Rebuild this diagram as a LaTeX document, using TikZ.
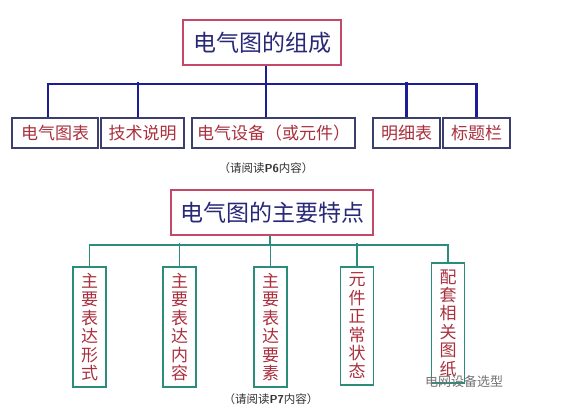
\documentclass[tikz,border=0pt]{standalone}
\usepackage{fontspec}
\setmainfont{Noto Sans CJK SC}
\usepackage{tikz}
\usetikzlibrary{calc, positioning}

\definecolor{rootred}{RGB}{196,72,104}
\definecolor{navy}{RGB}{40,40,120}
\definecolor{barblue}{RGB}{28,28,150}
\definecolor{boxblue}{RGB}{60,62,110}
\definecolor{leafred}{RGB}{170,48,62}
\definecolor{teal}{RGB}{44,140,122}

\begin{document}
\begin{tikzpicture}[
    x = 1pt, y = -1pt,
    every node/.style = {inner sep = 0pt},
    rootbox/.style = {draw = rootred, line width = 2pt, text = navy,
      font = \fontsize{23}{23}\selectfont, minimum height = 45pt},
    leafbox/.style = {draw = boxblue, line width = 1.3pt, text = leafred,
      font = \fontsize{17}{17}\selectfont, minimum height = 30pt},
    vertbox/.style = {draw = teal, line width = 1.6pt, text = leafred,
      font = \fontsize{17}{18.4}\selectfont, align = center,
      minimum width = 33pt, minimum height = 120pt},
    bluebar/.style = {draw = barblue, line width = 2.6pt},
    greenbar/.style = {draw = teal, line width = 1.8pt},
    note/.style = {font = \fontsize{11.5}{12}\selectfont, text = black!80}
  ]
  \useasboundingbox[fill = white] (0,0) rectangle (570,409);

  % composition
  \node[rootbox, minimum width = 158pt] (comp) at (262,42.5) {电气图的组成};
  \node[leafbox, minimum width = 86pt]  (chart)  at (55,133)    {电气图表};
  \node[leafbox, minimum width = 83pt]  (tech)   at (142.5,133) {技术说明};
  \node[leafbox, minimum width = 163pt] (equip)  at (273.5,133) {电气设备（或元件）};
  \node[leafbox, minimum width = 67pt]  (detail) at (406.5,133) {明细表};
  \node[leafbox, minimum width = 67pt]  (titlebar) at (476.5,133) {标题栏};
  \coordinate (compbar) at ($(comp.south)+(4,18)$);

  \draw[bluebar] ([xshift=4pt]comp.south) -- (compbar);
  \draw[bluebar] ([xshift=-7pt]chart.north) |- (compbar) -| (titlebar.north);
  \draw[bluebar] ([xshift=-4.5pt]tech.north) -- ++(0,-35);
  \draw[bluebar] ([xshift=-7.5pt]equip.north) -- ++(0,-35);
  \draw[bluebar] (detail.north) -- ++(0,-35);

  \node[note] (readsix) at (266,168) {（请阅读\textbf{\sffamily P6}内容）};

  % features
  \node[rootbox, minimum width = 202pt] (feat) at (272,212.5) {电气图的主要特点};
  \node[vertbox] (form)    at (89.5,327)  {主\\要\\表\\达\\形\\式};
  \node[vertbox] (content) at (179.5,327) {主\\要\\表\\达\\内\\容};
  \node[vertbox] (element) at (270.5,327) {主\\要\\表\\达\\要\\素};
  \node[vertbox, minimum height = 118pt] (state) at (357,326) {元\\件\\正\\常\\状\\态};
  \node[vertbox] (drawing) at (448,323)   {配\\套\\相\\关\\图\\纸};
  \coordinate (featbar) at ($(feat.south)+(-2,9)$);

  \draw[greenbar] ([xshift=-2pt]feat.south) -- (featbar);
  \draw[greenbar] (form.north) |- (featbar) -| (drawing.north);
  \draw[greenbar] (content.north) -- ++(0,-23);
  \draw[greenbar] (element.north) -- ++(0,-23);
  \draw[greenbar] (state.north) -- ++(0,-23);

  \node[note] (readseven) at (271,399) {（请阅读\textbf{\sffamily P7}内容）};

  % watermark
  \node[font = \fontsize{13}{13}\selectfont, text = black!55] (mark)
    at (464,382) {电网设备选型};
\end{tikzpicture}
\end{document}
